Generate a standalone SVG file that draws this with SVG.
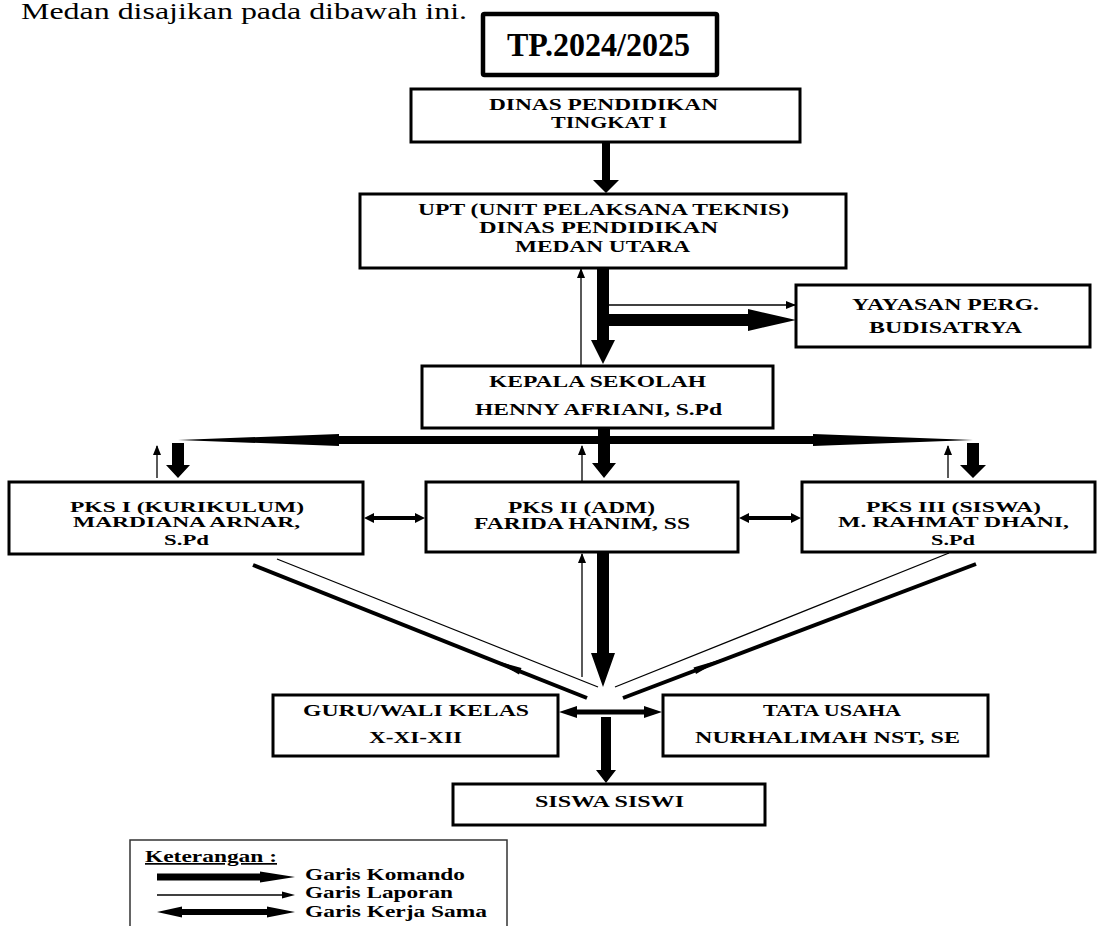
<svg xmlns="http://www.w3.org/2000/svg" width="1100" height="926" viewBox="0 0 1100 926">
<style>
.box{fill:#fff;stroke:#000;stroke-width:3}
.t{font-family:"Liberation Serif","Times New Roman",serif;font-weight:bold;font-size:16px;fill:#000}
.s{font-size:15px}
.lg{font-family:"Liberation Serif","Times New Roman",serif;font-weight:bold;font-size:17px;fill:#000}
.thick{fill:#000;stroke:none}
.thin{stroke:#000;stroke-width:1.3;fill:none}
.diag{stroke:#000;stroke-width:4;fill:none;stroke-linecap:butt}
</style>
<defs>
<marker id="ah" markerUnits="userSpaceOnUse" markerWidth="10" markerHeight="8" refX="9" refY="4" orient="auto">
<path d="M0,0 L10,4 L0,8 z" fill="#000"/>
</marker>
</defs>
<rect width="1100" height="926" fill="#fff"/>
<text x="21" y="19" font-family="Liberation Serif, Times New Roman, serif" font-size="24" textLength="446" lengthAdjust="spacingAndGlyphs">Medan disajikan pada dibawah ini.</text>

<g id="connectors">
<!-- DINAS -> UPT -->
<polygon class="thick" points="602,142 610,142 610,180 619,180 606,193 593,180 602,180"/>
<!-- UPT -> KEPALA -->
<polygon class="thick" points="597,268 609,268 609,340 615,340 603,364 591,340 597,340"/>
<line class="thin" x1="581" y1="365" x2="581" y2="269" marker-end="url(#ah)"/>
<!-- to Yayasan -->
<line class="thin" x1="609" y1="305" x2="795" y2="305" marker-end="url(#ah)"/>
<polygon class="thick" points="609,314 748,314 748,309 796,320 748,331 748,326 609,326"/>
<!-- distribution bar -->
<polygon class="thick" points="178,440 339,434 339,436 813,436 813,434 973,440 813,446 813,444 339,444 339,446"/>
<!-- KEPALA -> PKS II -->
<polygon class="thick" points="598,428 610,428 610,463 616,463 604,478 592,463 598,463"/>
<line class="thin" x1="582" y1="481" x2="582" y2="446" marker-end="url(#ah)"/>
<!-- PKS I -->
<polygon class="thick" points="172,443 184,443 184,465 190,465 178,478 166,465 172,465"/>
<line class="thin" x1="157" y1="478" x2="157" y2="446" marker-end="url(#ah)"/>
<!-- PKS III -->
<polygon class="thick" points="967,443 979,443 979,465 986,465 973,478 960,465 967,465"/>
<line class="thin" x1="948" y1="478" x2="948" y2="446" marker-end="url(#ah)"/>
<!-- Kerja sama PKS -->
<polygon class="thick" points="364,518 374,513 374,516 415,516 415,513 425,518 415,523 415,520 374,520 374,523"/>
<polygon class="thick" points="739,518 749,513 749,516 791,516 791,513 801,518 791,523 791,520 749,520 749,523"/>
<!-- PKS II down -->
<polygon class="thick" points="597,553 609,553 609,653 615,653 603,687 591,653 597,653"/>
<line class="thin" x1="582" y1="677" x2="582" y2="554" marker-end="url(#ah)"/>
<!-- diagonals -->
<line class="diag" x1="253" y1="565" x2="587" y2="698"/>
<polygon class="thick" points="493,660 519,674.5 521.5,668"/>
<line class="thin" x1="277" y1="559" x2="598" y2="687"/>
<line class="thin" x1="949" y1="553" x2="615" y2="687"/>
<line class="diag" x1="976" y1="564" x2="623" y2="698"/>
<polygon class="thick" points="722,659 696,674 693.5,667.5"/>
<!-- Guru <-> Tata -->
<polygon class="thick" points="559,712 577,706 577,709.5 644,709.5 644,706 662,712 644,718 644,714.5 577,714.5 577,718"/>
<!-- to Siswa -->
<polygon class="thick" points="601,717 611,717 611,770 616,770 606,783 596,770 601,770"/>
</g>

<g id="tp">
<rect x="483" y="14" width="234" height="61" fill="#fff" stroke="#000" stroke-width="4.5" rx="1.5"/>
<text x="507" y="56" font-family="Liberation Serif, Times New Roman, serif" font-weight="bold" font-size="33" textLength="183" lengthAdjust="spacingAndGlyphs">TP.2024/2025</text>
</g>

<g id="dinas">
<rect class="box" x="411" y="89" width="389" height="53"/>
<text class="t" x="489" y="110" textLength="229" lengthAdjust="spacingAndGlyphs">DINAS PENDIDIKAN</text>
<text class="t" x="551" y="128" textLength="116" lengthAdjust="spacingAndGlyphs">TINGKAT I</text>
</g>

<g id="upt">
<rect class="box" x="360" y="194" width="486" height="74"/>
<text class="t" x="418" y="215" textLength="371" lengthAdjust="spacingAndGlyphs">UPT (UNIT PELAKSANA TEKNIS)</text>
<text class="t" x="479" y="233" textLength="239" lengthAdjust="spacingAndGlyphs">DINAS PENDIDIKAN</text>
<text class="t" x="515" y="252" textLength="175" lengthAdjust="spacingAndGlyphs">MEDAN UTARA</text>
</g>

<g id="yayasan">
<rect class="box" x="796" y="285" width="294" height="62"/>
<text class="t" x="852" y="310" textLength="187" lengthAdjust="spacingAndGlyphs">YAYASAN PERG.</text>
<text class="t" x="869" y="333" textLength="153" lengthAdjust="spacingAndGlyphs">BUDISATRYA</text>
</g>

<g id="kepala">
<rect class="box" x="422" y="366" width="351" height="62"/>
<text class="t" x="489" y="387" textLength="217" lengthAdjust="spacingAndGlyphs">KEPALA SEKOLAH</text>
<text class="t" x="475" y="415" textLength="247" lengthAdjust="spacingAndGlyphs">HENNY AFRIANI, S.Pd</text>
</g>

<g id="pks1">
<rect class="box" x="9" y="482" width="354" height="72"/>
<text class="t s" x="70" y="512" textLength="234" lengthAdjust="spacingAndGlyphs">PKS I (KURIKULUM)</text>
<text class="t s" x="73" y="527" textLength="227" lengthAdjust="spacingAndGlyphs">MARDIANA ARNAR,</text>
<text class="t s" x="164" y="545" textLength="45" lengthAdjust="spacingAndGlyphs">S.Pd</text>
</g>

<g id="pks2">
<rect class="box" x="426" y="482" width="312" height="70"/>
<text class="t" x="508" y="513" textLength="147" lengthAdjust="spacingAndGlyphs">PKS II (ADM)</text>
<text class="t" x="474" y="529" textLength="216" lengthAdjust="spacingAndGlyphs">FARIDA HANIM, SS</text>
</g>

<g id="pks3">
<rect class="box" x="802" y="482" width="293" height="70"/>
<text class="t s" x="866" y="512" textLength="175" lengthAdjust="spacingAndGlyphs">PKS III (SISWA)</text>
<text class="t s" x="838" y="527" textLength="231" lengthAdjust="spacingAndGlyphs">M. RAHMAT DHANI,</text>
<text class="t s" x="931" y="545" textLength="44" lengthAdjust="spacingAndGlyphs">S.Pd</text>
</g>

<g id="guru">
<rect class="box" x="273" y="695" width="285" height="61"/>
<text class="t" x="303" y="716" textLength="226" lengthAdjust="spacingAndGlyphs">GURU/WALI KELAS</text>
<text class="t" x="369" y="743" textLength="93" lengthAdjust="spacingAndGlyphs">X-XI-XII</text>
</g>

<g id="tata">
<rect class="box" x="663" y="695" width="325" height="61"/>
<text class="t" x="763" y="716" textLength="138" lengthAdjust="spacingAndGlyphs">TATA USAHA</text>
<text class="t" x="695" y="743" textLength="265" lengthAdjust="spacingAndGlyphs">NURHALIMAH NST, SE</text>
</g>

<g id="siswa">
<rect class="box" x="453" y="784" width="312" height="41"/>
<text class="t" x="535" y="807" textLength="149" lengthAdjust="spacingAndGlyphs">SISWA SISWI</text>
</g>

<g id="legend">
<rect x="130" y="840" width="377" height="95" fill="#fff" stroke="#333" stroke-width="1.5"/>
<text class="lg" x="145" y="862" textLength="132" lengthAdjust="spacingAndGlyphs" text-decoration="underline">Keterangan :</text>
<polygon class="thick" points="157,873.5 260,873.5 260,871.5 295,877 260,882.5 260,880.5 157,880.5"/>
<line class="thin" x1="157" y1="895" x2="283" y2="895"/>
<polygon class="thick" points="282,891.5 295,895 282,898.5"/>
<polygon class="thick" points="157,912 182,906.5 182,909 267,909 267,906.5 295,912 267,917.5 267,915 182,915 182,917.5"/>
<text class="lg" x="305" y="880" textLength="160" lengthAdjust="spacingAndGlyphs">Garis Komando</text>
<text class="lg" x="305" y="898" textLength="148" lengthAdjust="spacingAndGlyphs">Garis Laporan</text>
<text class="lg" x="305" y="917" textLength="182" lengthAdjust="spacingAndGlyphs">Garis Kerja Sama</text>
</g>
</svg>
